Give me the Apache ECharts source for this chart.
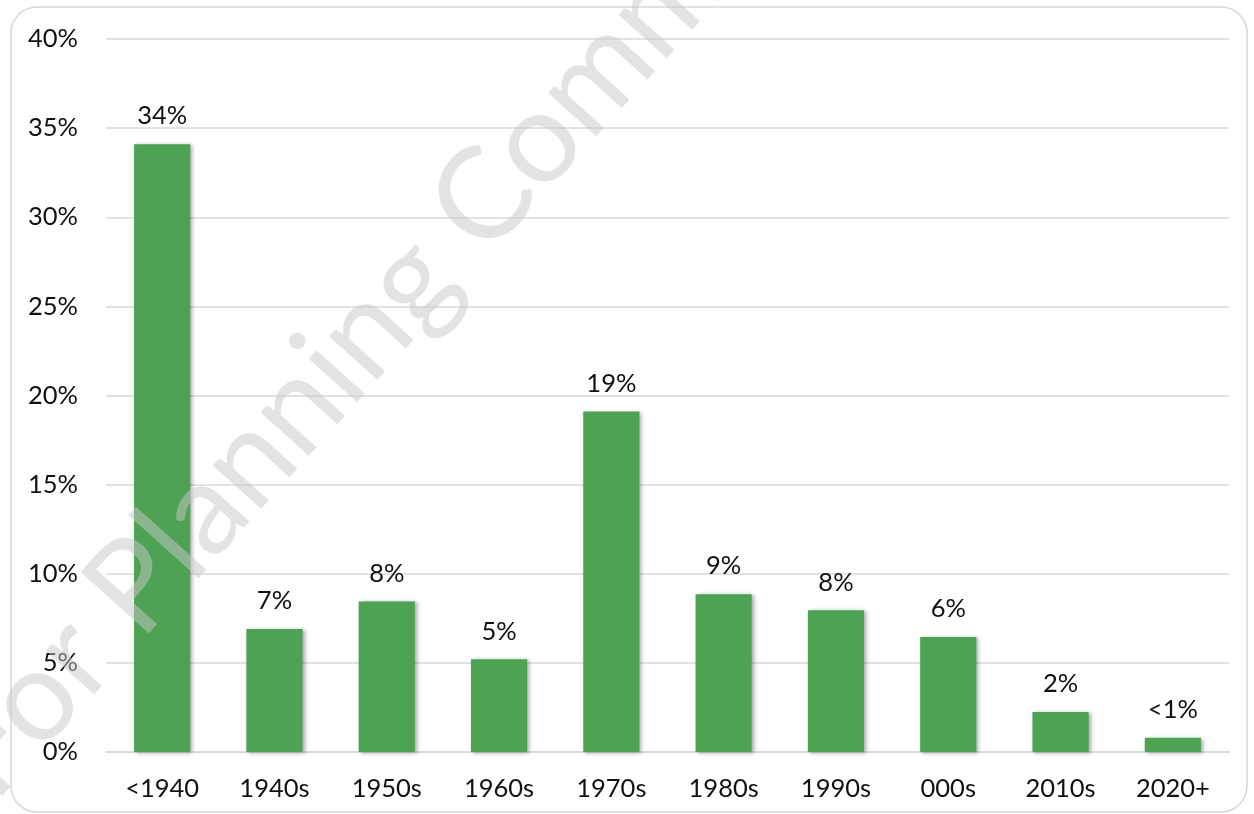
<!DOCTYPE html>
<html>
<head>
<meta charset="utf-8">
<script src="https://cdn.jsdelivr.net/npm/echarts@6/dist/echarts.min.js"></script>
<style>
  html, body { margin: 0; padding: 0; background: #ffffff; }
  #chart { width: 1254px; height: 814px; }
</style>
</head>
<body>
<div id="chart"></div>
<script>
// Share of housing units by decade built
const categories = ['<1940', '1940s', '1950s', '1960s', '1970s', '1980s', '1990s', '000s', '2010s', '2020+'];
const shares = [34.1, 6.9, 8.45, 5.2, 19.1, 8.85, 7.95, 6.45, 2.25, 0.8];
const yTicks = [0, 5, 10, 15, 20, 25, 30, 35, 40];

const FONT = 'Lato, "Open Sans", sans-serif';
const TEXT = '#111111';
const GRID = '#d9d9d9';
const FS = 25.5;

function pctLabel(v) {
  return v < 1 ? '<1%' : Math.round(v) + '%';
}

const chart = echarts.init(document.getElementById('chart'), null, { renderer: 'canvas' });

chart.setOption({
  backgroundColor: '#ffffff',
  animation: false,
  grid: { left: 106, right: 25, top: 39, bottom: 62 },
  xAxis: {
    type: 'category',
    data: categories,
    axisTick: { show: false },
    axisLine: { lineStyle: { color: GRID, width: 1.5 } },
    axisLabel: { color: TEXT, fontFamily: FONT, fontSize: FS, margin: 24 }
  },
  yAxis: {
    type: 'value',
    min: yTicks[0],
    max: yTicks[yTicks.length - 1],
    interval: yTicks[1] - yTicks[0],
    axisLine: { show: false },
    axisTick: { show: false },
    splitLine: { lineStyle: { color: GRID, width: 1.5 } },
    axisLabel: { color: TEXT, fontFamily: FONT, fontSize: FS, margin: 28, formatter: v => v + '%' }
  },
  series: [{
    type: 'bar',
    data: shares,
    barWidth: '50%',
    itemStyle: {
      color: '#4ea254',
      shadowColor: 'rgba(0,0,0,0.35)',
      shadowBlur: 4,
      shadowOffsetX: 2,
      shadowOffsetY: 1
    },
    label: {
      show: true,
      position: 'top',
      distance: 15,
      color: TEXT,
      fontFamily: FONT,
      fontSize: FS,
      formatter: p => pctLabel(p.value)
    }
  }],
  graphic: [
    {
      type: 'rect',
      z: -1,
      shape: { x: 11, y: 7, width: 1236, height: 805, r: 26 },
      style: { fill: 'none', stroke: GRID, lineWidth: 1.5 }
    },
    {
      type: 'text',
      z: 100,
      x: -36,
      y: 777,
      rotation: 48 * Math.PI / 180,
      style: {
        text: 'For Planning Commission',
        fontFamily: FONT,
        fontSize: 128,
        fill: 'rgba(200,200,200,0.5)',
        textAlign: 'left',
        textVerticalAlign: 'middle'
      }
    }
  ]
});
</script>
</body>
</html>
